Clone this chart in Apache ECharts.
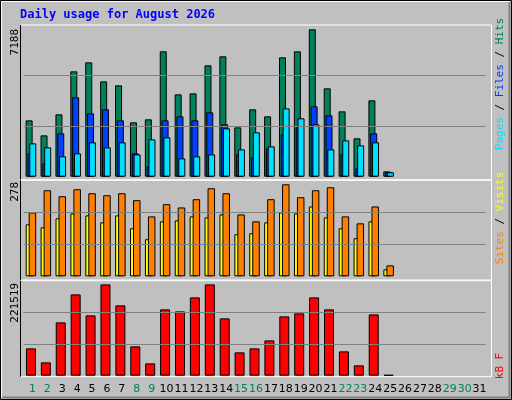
<!DOCTYPE html>
<html><head><meta charset="utf-8">
<script src="https://cdn.jsdelivr.net/npm/echarts@6/dist/echarts.min.js"></script>
<style>html,body{margin:0;padding:0;background:#c0c0c0}#c{width:512px;height:400px}</style>
</head><body><div id="c"></div>
<script>
const days = ['1','2','3','4','5','6','7','8','9','10','11','12','13','14','15','16','17','18','19','20','21','22','23','24','25','26','27','28','29','30','31'];
const weekend = ['1','2','8','9','15','16','22','23','29','30'];
const hits  = [2748,2016,3041,5138,5577,4650,4455,2650,2797,6114,4016,4065,5431,5870,2406,3285,2943,5821,6114,7188,4309,3187,1870,3724,260,null,null,null,null,null,null];
const files = [1138,650,2114,3870,3089,3285,2748,1138,504,2748,2943,2748,3138,2553,1089,943,1382,2065,2406,3431,2992,1089,407,2114,228,null,null,null,null,null,null];
const pages = [1626,1431,992,1138,1675,1431,1675,1089,1821,1919,894,992,1089,2358,1333,2163,1480,3333,2846,2553,1333,1772,1528,1675,211,null,null,null,null,null,null];
const visits = [193,260,242,263,251,245,251,230,181,218,208,233,266,251,187,166,233,278,239,260,269,181,160,211,33,null,null,null,null,null,null];
const sites  = [157,148,175,190,184,163,184,145,112,166,169,181,178,187,127,130,163,193,190,211,178,145,115,166,21,null,null,null,null,null,null];
const kbytes = [66297,32340,129360,197274,146339,221519,170594,71148,29915,160892,156041,189998,221519,139062,56595,66297,85701,143913,151190,189998,160892,59021,25064,148764,2000,null,null,null,null,null,null];
const maxHits = 7188, maxVisits = 278, maxKB = 221519;

const chart = echarts.init(document.getElementById('c'));
const L = 23.5, R = 26.5;
const panels = [
  {top:25, h:151.7, max:maxHits*151.7/147.4},
  {top:180.3, h:96, max:maxVisits*96/92},
  {top:280.7, h:95, max:maxKB*95/91.3}
];
const grid = panels.map(p=>({left:L, right:R, top:p.top, height:p.h}));
const xAxis = panels.map((p,i)=>({type:'category', gridIndex:i, data:days, boundaryGap:true,
  axisLine:{show:false}, axisTick:{show:false},
  axisLabel: i===2 ? {show:true, interval:0, hideOverlap:false, margin:8, padding:[0,0,0,3], fontFamily:'DejaVu Sans', fontSize:11,
     formatter:v=> weekend.includes(v) ? '{w|'+v+'}' : '{d|'+v+'}',
     rich:{w:{color:'#00805c',fontFamily:'DejaVu Sans',fontSize:11}, d:{color:'#000',fontFamily:'DejaVu Sans',fontSize:11}}} : {show:false}}));
const yAxis = panels.map((p,i)=>({type:'value', gridIndex:i, min:0, max:p.max, interval:p.max/3,
  axisLine:{show:false}, axisTick:{show:false}, axisLabel:{show:false}, splitLine:{show:false}}));
const ml = p => ({silent:true, symbol:'none', label:{show:false}, lineStyle:{color:'#808080', type:'solid', width:1},
  data:[{yAxis:p.max/3},{yAxis:2*p.max/3}]});
const bs = {borderColor:'#000', borderWidth:1};
const series = [
  {type:'bar', name:'Hits', xAxisIndex:0, yAxisIndex:0, data:hits, barWidth:7, barGap:'-74%', itemStyle:{color:'#00805c',...bs}, markLine:ml(panels[0]), z:2},
  {type:'bar', name:'Files', xAxisIndex:0, yAxisIndex:0, data:files, barWidth:7, barGap:'-74%', itemStyle:{color:'#0040ff',...bs}, z:3},
  {type:'bar', name:'Pages', xAxisIndex:0, yAxisIndex:0, data:pages, barWidth:7, barGap:'-74%', itemStyle:{color:'#00e0ff',...bs}, z:4},
  {type:'bar', name:'Sites', xAxisIndex:1, yAxisIndex:1, data:sites, barWidth:7.5, barGap:'-60%', itemStyle:{color:'#ffff00',...bs}, markLine:ml(panels[1]), z:2},
  {type:'bar', name:'Visits', xAxisIndex:1, yAxisIndex:1, data:visits, barWidth:7.5, barGap:'-60%', itemStyle:{color:'#ff8000',...bs}, z:3},
  {type:'bar', name:'kB F', xAxisIndex:2, yAxisIndex:2, data:kbytes, barWidth:10, itemStyle:{color:'#ff0000',...bs}, markLine:ml(panels[2]), z:2}
];
const mono = 'DejaVu Sans Mono';
const frames = [[25,179.7],[180.3,280],[280.7,376.7]].map(([a,b])=>({type:'rect', silent:true, z:100,
  shape:{x:20.5,y:a,width:471,height:b-a}, style:{fill:'none', stroke:'#fff', lineWidth:1}}));
const leftLines = [[25,179.7],[180.3,280],[280.7,376.7]].map(([a,b])=>({type:'line', silent:true, z:101,
  shape:{x1:20.5,y1:a,x2:20.5,y2:b}, style:{stroke:'#000', lineWidth:1}}));
const vtext = (x,y,rich,text,align) => ({type:'text', x:x, y:y, rotation:Math.PI/2, z:110, silent:true,
  style:{text:text, rich:rich, fontFamily:mono, fontSize:11, align:align, verticalAlign:'middle'}});
const graphic = [
  {type:'rect', silent:true, z:0, shape:{x:0.5,y:0.5,width:511,height:399}, style:{fill:'#c0c0c0', stroke:'#000'}},
  {type:'polyline', silent:true, z:1, shape:{points:[[1.5,398],[1.5,1.5],[510,1.5]]}, style:{stroke:'#fff', fill:'none'}},
  {type:'polyline', silent:true, z:1, shape:{points:[[2,397.5],[509.5,397.5],[509.5,2]]}, style:{stroke:'#808080', fill:'none', lineWidth:2}},
  {type:'text', x:20, y:15, z:110, silent:true, style:{text:'Daily usage for August 2026', fill:'#0000ff', fontFamily:mono, fontWeight:'bold', fontSize:12, verticalAlign:'middle'}},
  ...frames, ...leftLines,
  vtext(15,29,{},'7188','right'),
  vtext(15,182,{},'278','right'),
  vtext(15,283,{},'221519','right'),
  vtext(500,84,{p:{fill:'#00e0ff',fontFamily:mono,fontSize:11},f:{fill:'#0040ff',fontFamily:mono,fontSize:11},h:{fill:'#00805c',fontFamily:mono,fontSize:11},s:{fill:'#000',fontFamily:mono,fontSize:11}},'{p|Pages}{s| / }{f|Files}{s| / }{h|Hits}','center'),
  vtext(500,218,{a:{fill:'#ff8000',fontFamily:mono,fontSize:11},b:{fill:'#ffff00',fontFamily:mono,fontSize:11},s:{fill:'#000',fontFamily:mono,fontSize:11}},'{a|Sites}{s| / }{b|Visits}','center'),
  vtext(500,366,{k:{fill:'#ff0000',fontFamily:mono,fontSize:11}},'{k|kB F}','center')
];
chart.setOption({animation:false, backgroundColor:'#c0c0c0', grid, xAxis, yAxis, series, graphic});
</script></body></html>
